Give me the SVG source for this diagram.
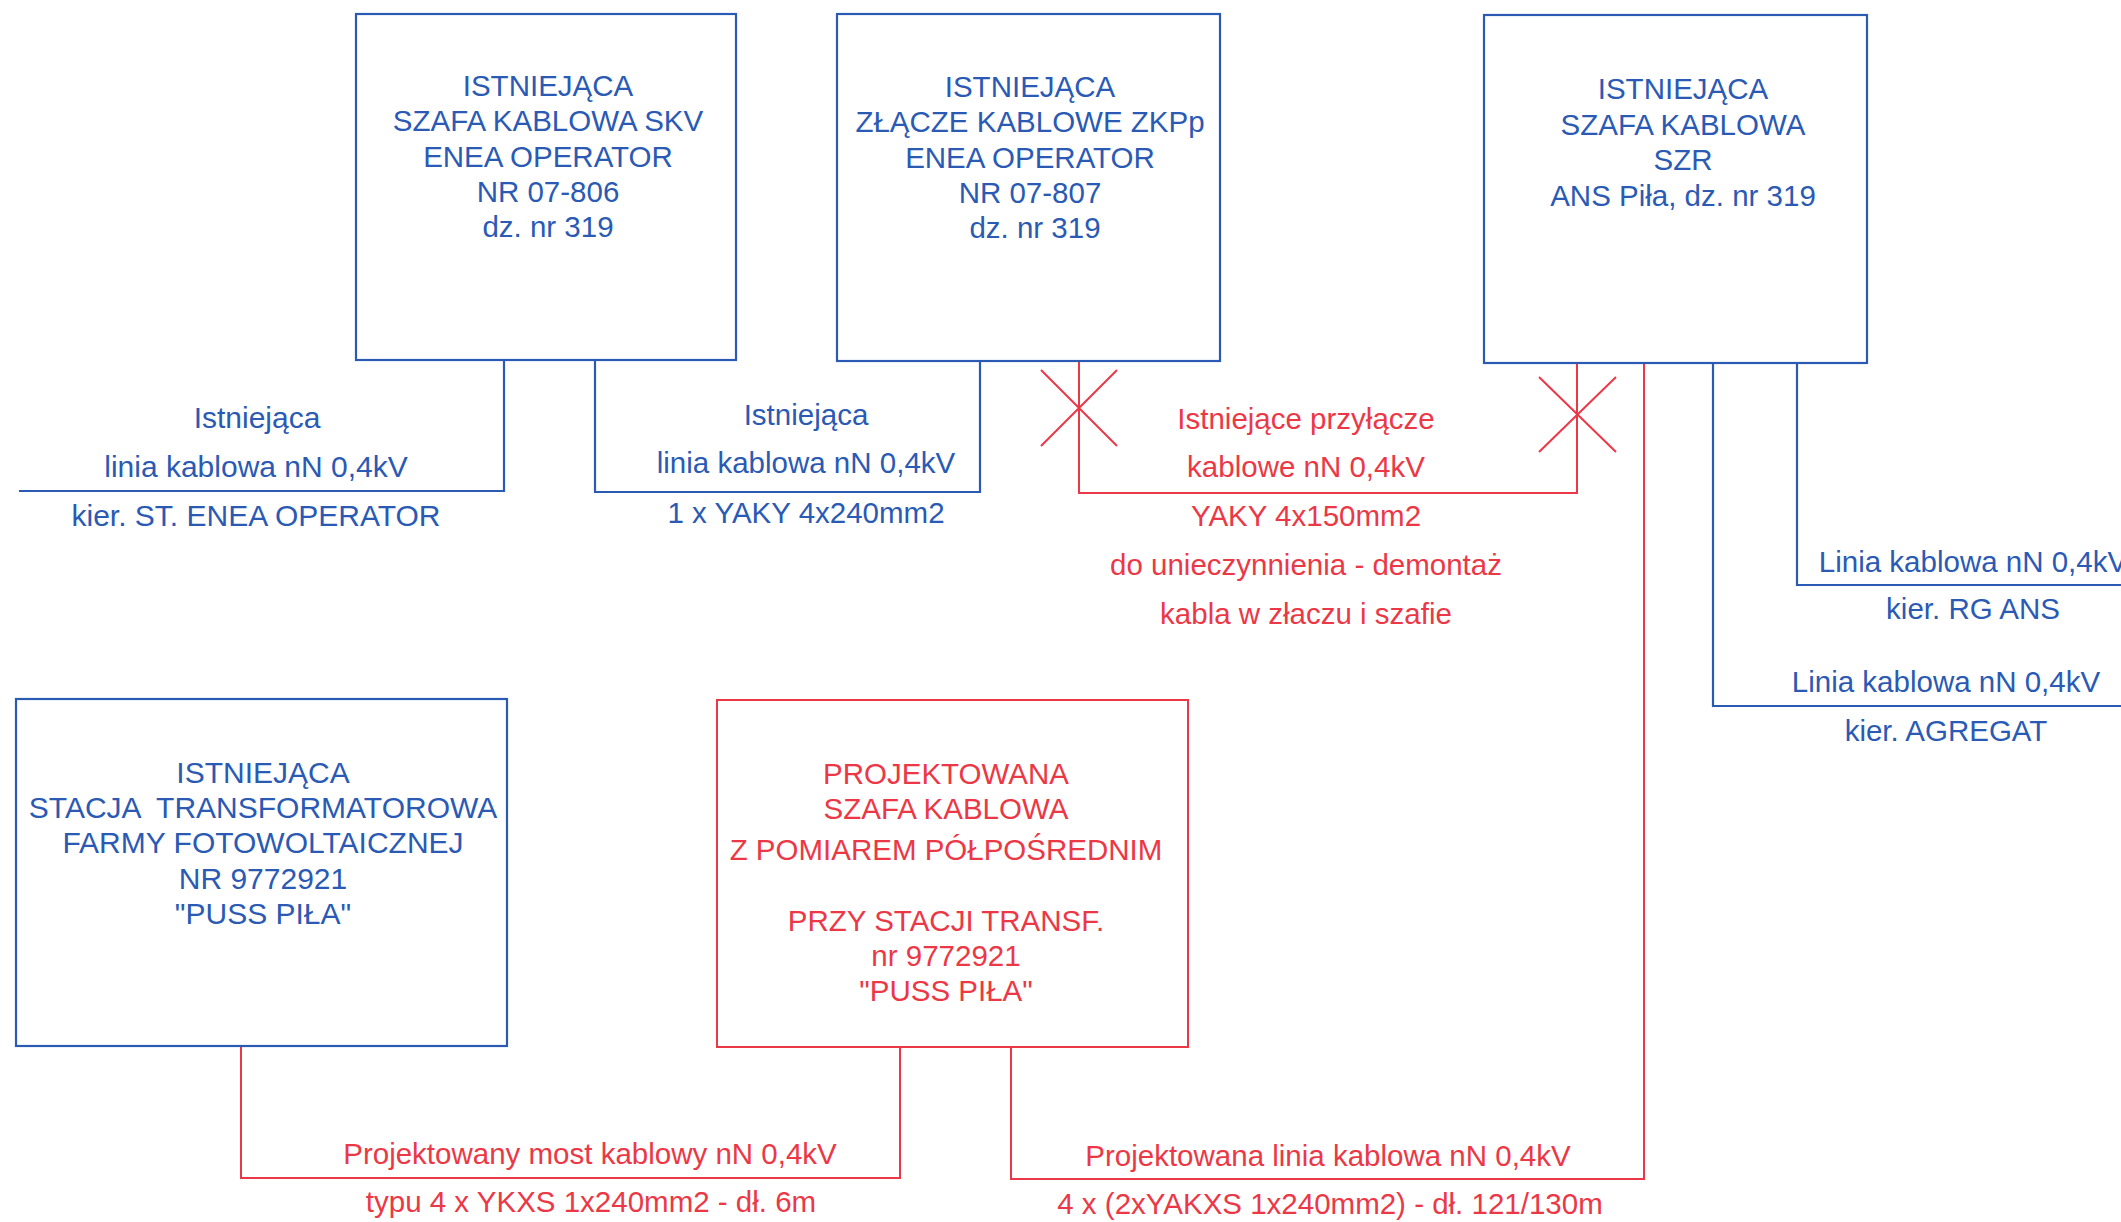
<svg xmlns="http://www.w3.org/2000/svg" width="2121" height="1222" viewBox="0 0 2121 1222">
<style>
.bg{fill:#ffffff}
.bb{fill:none;stroke:#2a5ab4;stroke-width:2.2}
.rb{fill:none;stroke:#ec3846;stroke-width:2}
.bl{fill:none;stroke:#2a5ab4;stroke-width:2.2}
.rl{fill:none;stroke:#ec3846;stroke-width:2}
text{font-family:"Liberation Sans",Arial,sans-serif;font-size:29.5px;text-anchor:middle}
.bt{fill:#2a5ab4}
.rt{fill:#ec3846}
.w{font-size:30px}
</style>
<rect class="bg" x="0" y="0" width="2121" height="1222"/>
<g id="connectors">
  <polyline class="bl" points="504,360 504,491 19,491"/>
  <polyline class="bl" points="595,360 595,492 980,492 980,361"/>
  <polyline class="rl" points="1079,361 1079,493 1577,493 1577,363"/>
  <path class="rl" d="M1041,370 L1117,446 M1117,370 L1041,446"/>
  <path class="rl" d="M1539,377 L1616,452 M1616,377 L1539,452"/>
  <polyline class="rl" points="1644,363 1644,1179 1011,1179 1011,1047"/>
  <polyline class="bl" points="1797,363 1797,585 2121,585"/>
  <polyline class="bl" points="1713,363 1713,706 2121,706"/>
  <polyline class="rl" points="241,1046 241,1178 900,1178 900,1047"/>
  <g class="bt">
    <text class="w" x="257" y="428">Istniejąca</text>
    <text class="w" x="256" y="477">linia kablowa nN 0,4kV</text>
    <text class="w" x="256" y="526">kier. ST. ENEA OPERATOR</text>
    <text x="806" y="425">Istniejąca</text>
    <text x="806" y="473">linia kablowa nN 0,4kV</text>
    <text x="806" y="523">1 x YAKY 4x240mm2</text>
    <text x="1973" y="572">Linia kablowa nN 0,4kV</text>
    <text x="1973" y="619">kier. RG ANS</text>
    <text x="1946" y="692">Linia kablowa nN 0,4kV</text>
    <text x="1946" y="741">kier. AGREGAT</text>
  </g>
  <g class="rt">
    <text x="1306" y="429">Istniejące przyłącze</text>
    <text x="1306" y="477">kablowe nN 0,4kV</text>
    <text x="1306" y="526">YAKY 4x150mm2</text>
    <text x="1306" y="575">do unieczynnienia - demontaż</text>
    <text x="1306" y="624">kabla w złaczu i szafie</text>
    <text x="590" y="1164">Projektowany most kablowy nN 0,4kV</text>
    <text x="591" y="1212">typu 4 x YKXS 1x240mm2 - dł. 6m</text>
    <text x="1328" y="1166">Projektowana linia kablowa nN 0,4kV</text>
    <text x="1330" y="1214">4 x (2xYAKXS 1x240mm2) - dł. 121/130m</text>
  </g>
</g>
<g id="szafa-skv">
  <rect class="bb" x="356" y="14" width="380" height="346"/>
  <g class="bt">
    <text x="548" y="96">ISTNIEJĄCA</text>
    <text x="548" y="131">SZAFA KABLOWA SKV</text>
    <text x="548" y="167">ENEA OPERATOR</text>
    <text x="548" y="202">NR 07-806</text>
    <text x="548" y="237">dz. nr 319</text>
  </g>
</g>
<g id="zlacze-zkpp">
  <rect class="bb" x="837" y="14" width="383" height="347"/>
  <g class="bt">
    <text x="1030" y="97">ISTNIEJĄCA</text>
    <text x="1030" y="132">ZŁĄCZE KABLOWE ZKPp</text>
    <text x="1030" y="168">ENEA OPERATOR</text>
    <text x="1030" y="203">NR 07-807</text>
    <text x="1035" y="238">dz. nr 319</text>
  </g>
</g>
<g id="szafa-szr">
  <rect class="bb" x="1484" y="15" width="383" height="348"/>
  <g class="bt">
    <text x="1683" y="99">ISTNIEJĄCA</text>
    <text x="1683" y="135">SZAFA KABLOWA</text>
    <text x="1683" y="170">SZR</text>
    <text x="1683" y="206">ANS Piła, dz. nr 319</text>
  </g>
</g>
<g id="stacja">
  <rect class="bb" x="16" y="699" width="491" height="347"/>
  <g class="bt">
    <text class="w" x="263" y="783">ISTNIEJĄCA</text>
    <text class="w" x="263" y="818" xml:space="preserve">STACJA  TRANSFORMATOROWA</text>
    <text class="w" x="263" y="853">FARMY FOTOWOLTAICZNEJ</text>
    <text class="w" x="263" y="889">NR 9772921</text>
    <text class="w" x="263" y="924">"PUSS PIŁA"</text>
  </g>
</g>
<g id="projektowana-szafa">
  <rect class="rb" x="717" y="700" width="471" height="347"/>
  <g class="rt">
    <text x="946" y="784">PROJEKTOWANA</text>
    <text x="946" y="819">SZAFA KABLOWA</text>
    <text x="946" y="860">Z POMIAREM PÓŁPOŚREDNIM</text>
    <text x="946" y="931">PRZY STACJI TRANSF.</text>
    <text x="946" y="966">nr 9772921</text>
    <text x="946" y="1001">"PUSS PIŁA"</text>
  </g>
</g>
</svg>
